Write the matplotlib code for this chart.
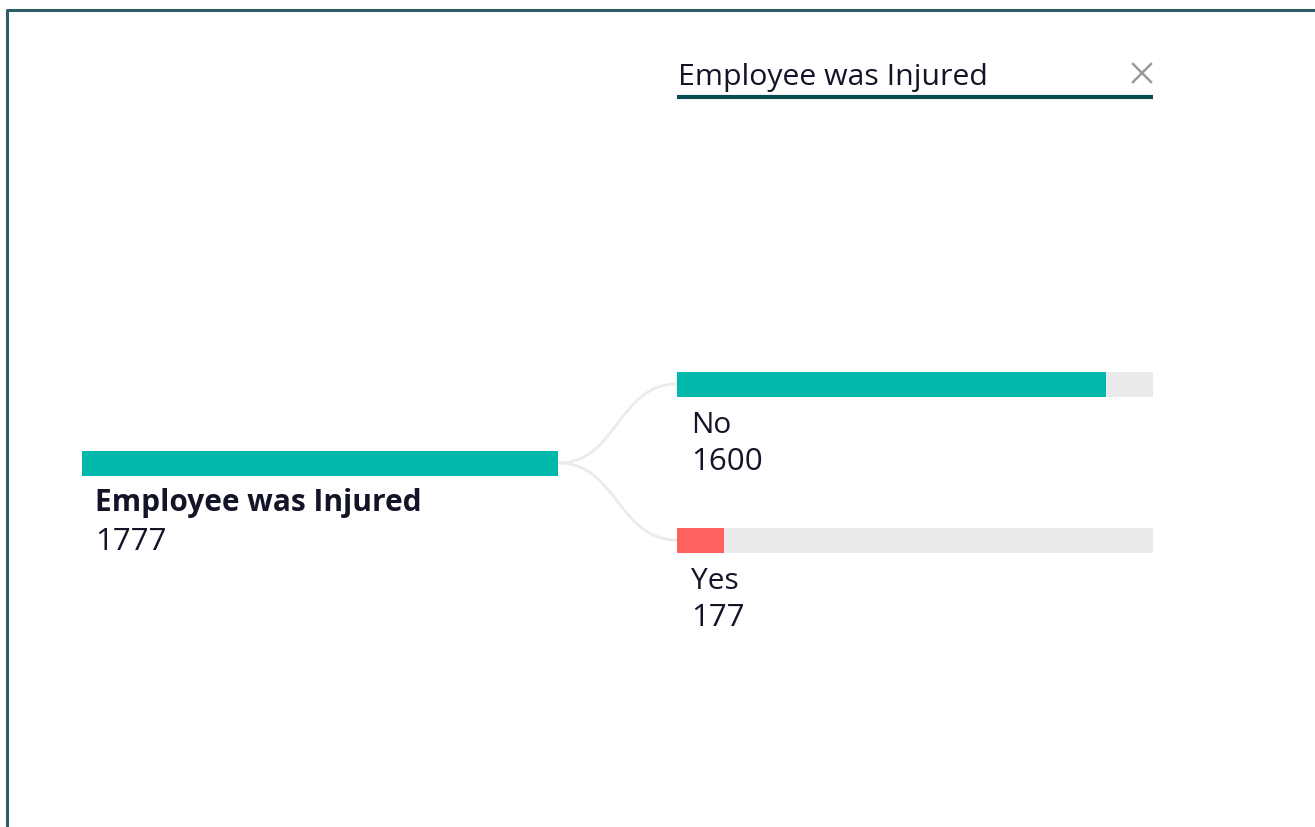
import matplotlib.pyplot as plt
from matplotlib.path import Path
from matplotlib.patches import PathPatch

# data
root_name = 'Employee was Injured'
root_value = 1777
categories = ['No', 'Yes']
values = [1600, 177]
bar_colors = ['#01B8AA', '#FD625E']

plt.rcParams['font.family'] = ['Open Sans', 'Noto Sans', 'DejaVu Sans']

fig = plt.figure(figsize=(13.15, 8.28), dpi=100)
ax = fig.add_axes([0, 0, 1, 1])
ax.set_xlim(0, 1315)
ax.set_ylim(828, 0)
ax.axis('off')

# frame of the visual (top and left edges visible)
ax.plot([7.5, 7.5, 1315], [828, 10.5, 10.5], color='#2f5f66', lw=2.2, solid_capstyle='butt')

bar_len = 476
text_col = '#141428'

# root node
root_x, root_y = 82, 464
ax.barh(root_y, bar_len, left=root_x, height=25, color='#01B8AA')
ax.text(root_x + 13, 511, root_name, fontsize=21.5, fontweight='bold', color=text_col, va='baseline')
ax.text(root_x + 13, 550, str(root_value), fontsize=22.5, color=text_col, va='baseline')

# level header
col_x = 677
ax.text(col_x + 1, 85, root_name, fontsize=21.8, color=text_col, va='baseline')
ax.plot([col_x, col_x + bar_len], [98, 98], color='#0b4a50', lw=3, solid_capstyle='butt')
ax.plot([1133, 1151], [65, 83], color='#9a9a9a', lw=1.8)
ax.plot([1133, 1151], [83, 65], color='#9a9a9a', lw=1.8)

# child nodes
child_y = [385, 541]
for cat, val, col, cy in zip(categories, values, bar_colors, child_y):
    # connector
    x0, y0 = root_x + bar_len, root_y
    mid = (x0 + col_x) / 2
    path = Path([(x0, y0), (mid, y0), (mid, cy), (col_x, cy)],
                [Path.MOVETO, Path.CURVE4, Path.CURVE4, Path.CURVE4])
    ax.add_patch(PathPatch(path, fill=False, edgecolor='#ebebeb', lw=2))
    ax.barh(cy, bar_len, left=col_x, height=25, color='#EAEAEC')
    ax.barh(cy, val / root_value * bar_len, left=col_x, height=25, color=col)
    ax.text(col_x + 14, cy + 48, cat, fontsize=21.5, color=text_col, va='baseline')
    ax.text(col_x + 14, cy + 85, str(val), fontsize=22.5, color=text_col, va='baseline')

fig.savefig('out.png', dpi=100)
